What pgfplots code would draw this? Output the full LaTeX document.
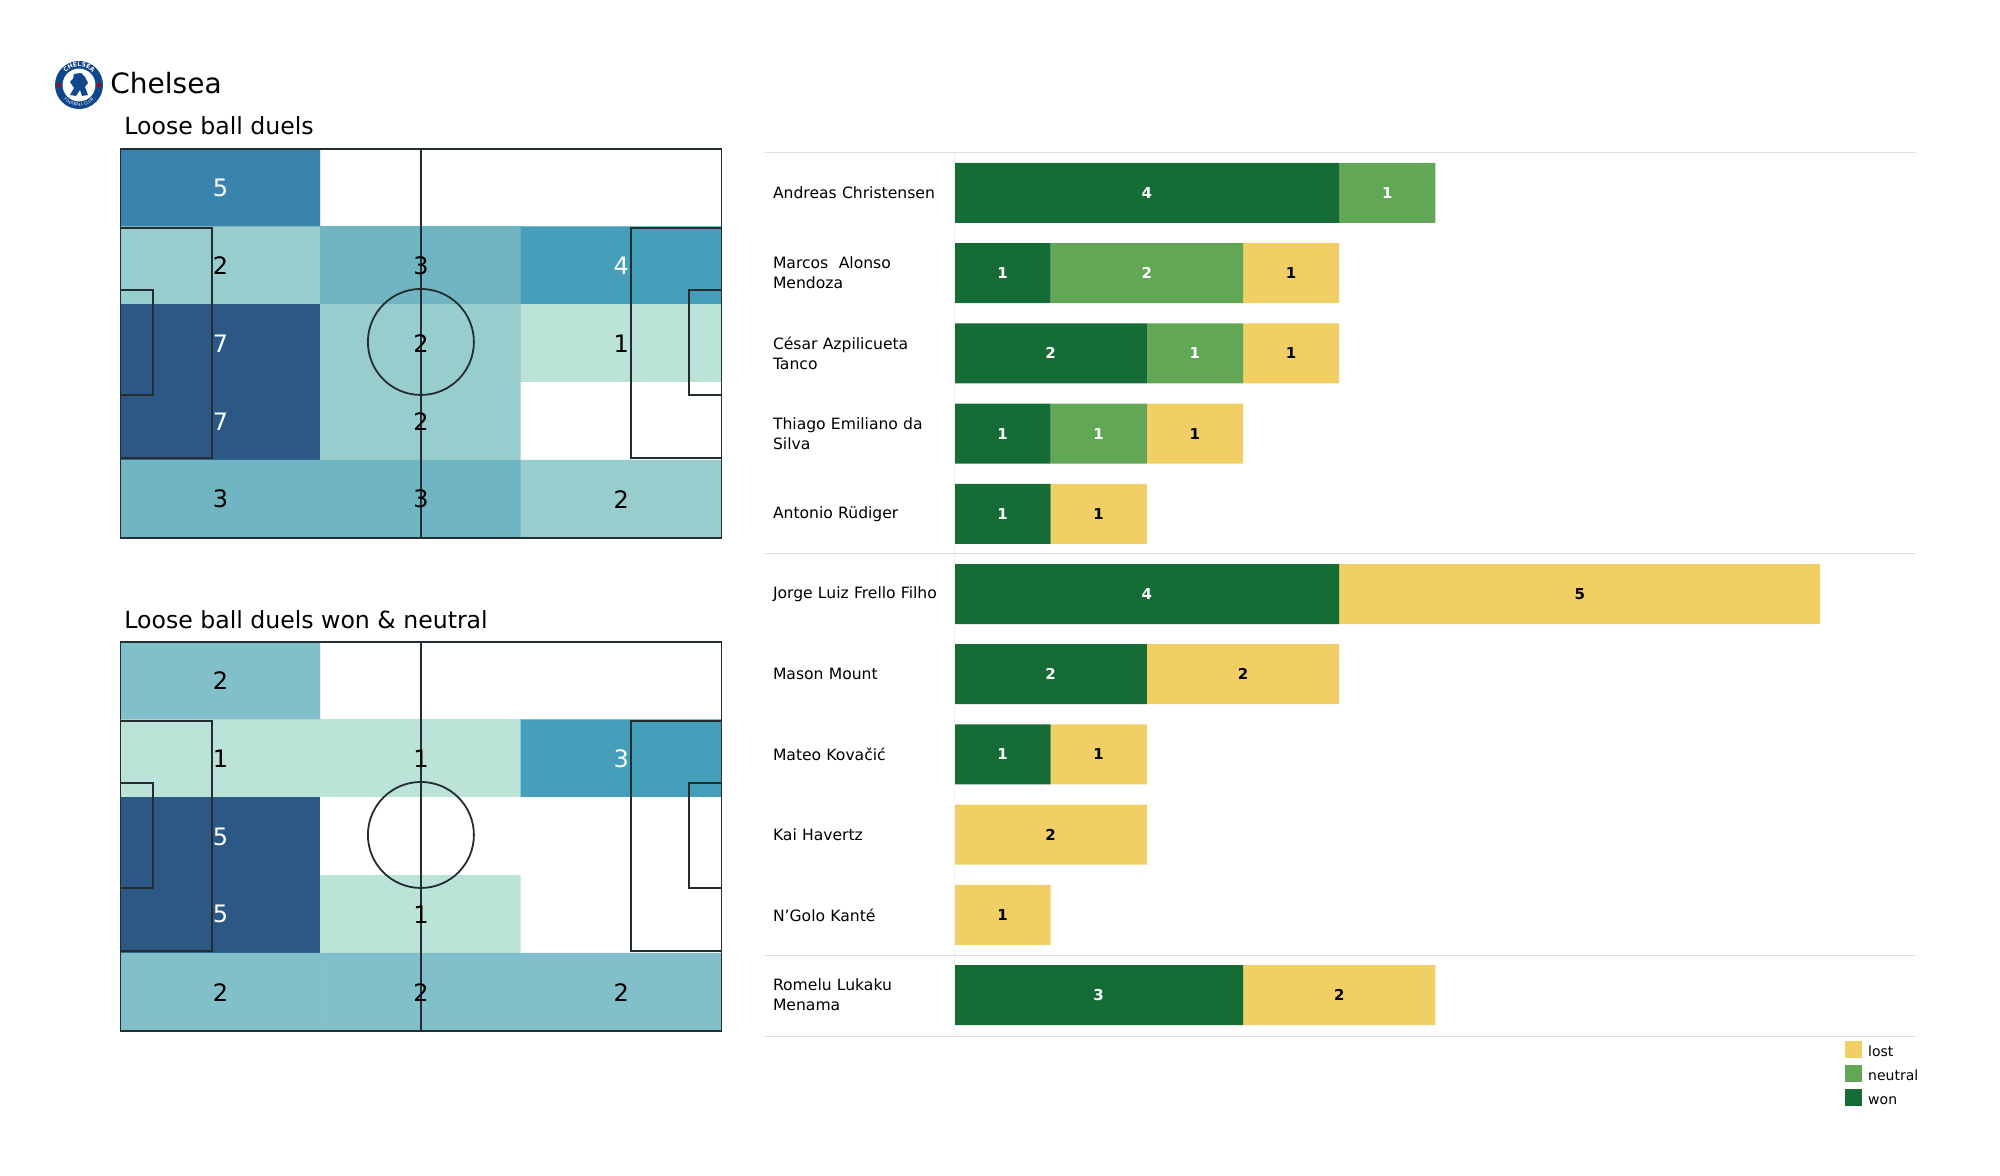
\documentclass[border=0pt]{standalone}
\usepackage{fontspec}
\setmainfont{DejaVu Sans}
\usepackage{pgfplots}
\usepackage{pgfplotstable}
\pgfplotsset{compat=1.18}
\usetikzlibrary{decorations.text}

\definecolor{won}{RGB}{21,108,54}
\definecolor{neutral}{RGB}{98,167,85}
\definecolor{lost}{RGB}{241,207,100}
\definecolor{rule}{RGB}{222,222,222}
\definecolor{pitchline}{RGB}{35,45,50}
\definecolor{crest}{RGB}{16,70,140}

% cells of the two pitches: column, row from the top, count
\pgfplotstableread{
x y c
0.5 0.5 5
1.5 0.5 0
2.5 0.5 0
0.5 1.5 2
1.5 1.5 3
2.5 1.5 4
0.5 2.5 7
1.5 2.5 2
2.5 2.5 1
0.5 3.5 7
1.5 3.5 2
2.5 3.5 0
0.5 4.5 3
1.5 4.5 3
2.5 4.5 2
}\cellsall
\pgfplotstableread{
x y c
0.5 0.5 2
1.5 0.5 0
2.5 0.5 0
0.5 1.5 1
1.5 1.5 1
2.5 1.5 3
0.5 2.5 5
1.5 2.5 0
2.5 2.5 0
0.5 3.5 5
1.5 3.5 1
2.5 3.5 0
0.5 4.5 2
1.5 4.5 2
2.5 4.5 2
}\cellswon

% count labels, split by text colour
\pgfplotstableread{
x y c
0.5 0.5 5
2.5 1.5 4
0.5 2.5 7
0.5 3.5 7
}\lightall
\pgfplotstableread{
x y c
0.5 1.5 2
1.5 1.5 3
1.5 2.5 2
2.5 2.5 1
1.5 3.5 2
0.5 4.5 3
1.5 4.5 3
2.5 4.5 2
}\darkall
\pgfplotstableread{
x y c
2.5 1.5 3
0.5 2.5 5
0.5 3.5 5
}\lightwon
\pgfplotstableread{
x y c
0.5 0.5 2
0.5 1.5 1
1.5 1.5 1
1.5 3.5 1
0.5 4.5 2
1.5 4.5 2
2.5 4.5 2
}\darkwon

\pgfplotstableread{
row won neutral lost
0 4 1 0
1 1 2 1
2 2 1 1
3 1 1 1
4 1 0 1
5 4 0 5
6 2 0 2
7 1 0 1
8 0 0 2
9 0 0 1
10 3 0 2
}\duels

\pgfplotsset{
  pitch/.style={
    scale only axis, hide axis, clip=false,
    width=300.5pt, height=194.5pt,
    xmin=0, xmax=3, ymin=0, ymax=5, y dir=reverse,
    anchor=south west,
  },
  celllabel/.style={
    only marks, mark=none, forget plot,
    point meta=explicit symbolic,
    nodes near coords,
    every node near coord/.append style={
      anchor=center, inner sep=0pt, text=#1,
      font=\fontsize{12}{14}\selectfont},
  },
  pitchline/.style={draw=pitchline, line width=0.9pt, forget plot, mark=none},
  barlabel/.style={
    point meta=explicit symbolic,
    nodes near coords={\if0\pgfplotspointmeta\else\pgfplotspointmeta\fi},
    every node near coord/.append style={
      text=#1, inner sep=0pt, font=\fontsize{7.5}{9}\selectfont\bfseries},
  },
}

\newcommand{\pitchlines}{
  \addplot[pitchline] coordinates {(0,0) (3,0) (3,5) (0,5) (0,0)};
  \addplot[pitchline] coordinates {(1.5,0) (1.5,5)};
  \addplot[pitchline] coordinates {(0,1.015) (0.459,1.015) (0.459,3.97) (0,3.97)};
  \addplot[pitchline] coordinates {(0,1.81) (0.162,1.81) (0.162,3.16) (0,3.16)};
  \addplot[pitchline] coordinates {(3,1.015) (2.548,1.015) (2.548,3.97) (3,3.97)};
  \addplot[pitchline] coordinates {(3,1.81) (2.838,1.81) (2.838,3.16) (3,3.16)};
  \draw[pitchline, line width=0.9pt] (axis cs:1.5,2.48) circle [radius=26.5pt];
}

\begin{document}
\begin{tikzpicture}
\path[use as bounding box] (0,0) rectangle (1000pt,587.5pt);

% crest
\begin{scope}[shift={(39.5pt,545pt)}]
  \fill[crest] (0,0) circle [radius=12pt];
  \fill[white] (0,0) circle [radius=8.2pt];
  \fill[crest] (-2.5pt,5.5pt) -- (1pt,6pt) -- (3pt,4pt) -- (4.5pt,1pt) -- (3pt,-1pt)
    -- (4.5pt,-5pt) -- (1.5pt,-5.5pt) -- (0.5pt,-2.5pt) -- (-1.5pt,-5.5pt) -- (-4.5pt,-5pt)
    -- (-2.5pt,-1.5pt) -- (-4.5pt,1.5pt) -- (-3pt,3pt) -- cycle;
  \fill[red!70!black] (-10pt,0) circle [radius=1pt] (10pt,0) circle [radius=1pt];
  \path[postaction={decorate}, decoration={text along path,
      text={|\fontsize{3}{3}\selectfont\bfseries\color{white}|CHELSEA}, text align=center}]
    (-8.8pt,1.6pt) arc [start angle=170, end angle=10, radius=9pt];
  \path[postaction={decorate}, decoration={text along path,
      text={|\fontsize{2}{2}\selectfont\color{white}|FOOTBALL CLUB}, text align=center}]
    (-10.2pt,-3pt) arc [start angle=197, end angle=343, radius=10.6pt];
\end{scope}

\node[anchor=base west, inner sep=0pt, font=\fontsize{14}{17}\selectfont] at (55pt,540.5pt) {Chelsea};
\node[anchor=base west, inner sep=0pt, font=\fontsize{11.8}{14}\selectfont] at (62pt,520.4pt) {Loose ball duels};
\node[anchor=base west, inner sep=0pt, font=\fontsize{11.8}{14}\selectfont] at (62pt,273.5pt) {Loose ball duels won \& neutral};

% first pitch
\begin{axis}[pitch, at={(60.2pt,318.5pt)},
  colormap={pitcha}{rgb255(0cm)=(255,255,255) rgb255(1cm)=(188,227,216) rgb255(2cm)=(152,205,205)
    rgb255(3cm)=(111,181,194) rgb255(4cm)=(69,159,186) rgb255(5cm)=(56,132,172) rgb255(7cm)=(43,88,133)},
  point meta min=0, point meta max=7]
\addplot[matrix plot*, mesh/cols=3, point meta=explicit, forget plot] table[meta=c] {\cellsall};
\pitchlines
\addplot[celllabel=white] table[meta=c] {\lightall};
\addplot[celllabel=black] table[meta=c] {\darkall};
\end{axis}

% second pitch
\begin{axis}[pitch, at={(60.2pt,72pt)},
  colormap={pitchb}{rgb255(0cm)=(255,255,255) rgb255(1cm)=(188,227,216) rgb255(2cm)=(129,192,202)
    rgb255(3cm)=(69,159,186) rgb255(5cm)=(43,88,133)},
  point meta min=0, point meta max=5]
\addplot[matrix plot*, mesh/cols=3, point meta=explicit, forget plot] table[meta=c] {\cellswon};
\pitchlines
\addplot[celllabel=white] table[meta=c] {\lightwon};
\addplot[celllabel=black] table[meta=c] {\darkwon};
\end{axis}

% duels per player
\begin{axis}[
  at={(477.2pt,69.5pt)}, anchor=south west,
  scale only axis, width=481pt, height=442pt,
  xbar stacked, bar width=30pt, clip=false,
  xmin=0, xmax=10, ymin=-0.51, ymax=10.51, y dir=reverse,
  axis line style={draw=none}, xtick=\empty,
  ytick={0,...,10}, major tick length=0pt, tick label style={inner sep=0pt},
  yticklabels={Andreas Christensen, {Marcos\ \ Alonso\\Mendoza}, {César Azpilicueta\\Tanco},
    {Thiago Emiliano da\\Silva}, Antonio Rüdiger, Jorge Luiz Frello Filho, Mason Mount,
    Mateo Kovačić, Kai Havertz, N'Golo Kanté, {Romelu Lukaku\\Menama}},
  yticklabel style={align=left, text width=85.5pt, font=\fontsize{7.8}{10}\selectfont},
  every y tick label/.append style={xshift=-5pt},
  reverse legend,
  legend style={draw=none, fill=none, at={(0.926,-0.006)}, anchor=north west,
    font=\fontsize{7}{8.5}\selectfont, inner sep=0pt, outer sep=0pt,
    row sep=3pt, nodes={inner sep=0pt, anchor=base west}},
  legend cell align=left,
  legend image code/.code={\fill[#1] (0pt,-1pt) rectangle (8.5pt,7.5pt); \path (11.5pt,0pt);},
]
\draw[rule, line width=0.5pt] (axis cs:-1.97,-0.51) -- (axis cs:10,-0.51);
\draw[rule, line width=0.5pt] (axis cs:-1.97,4.5) -- (axis cs:10,4.5);
\draw[rule, line width=0.5pt] (axis cs:-1.97,9.5) -- (axis cs:10,9.5);
\draw[rule, line width=0.5pt] (axis cs:-1.97,10.51) -- (axis cs:10,10.51);
\draw[rule!40, line width=0.5pt] (axis cs:0,-0.51) -- (axis cs:0,10.51);
\addplot[fill=won, draw=none, barlabel=white] table[x=won, y=row, meta=won] {\duels};
\addlegendentry{won}
\addplot[fill=neutral, draw=none, barlabel=white] table[x=neutral, y=row, meta=neutral] {\duels};
\addlegendentry{neutral}
\addplot[fill=lost, draw=none, barlabel=black] table[x=lost, y=row, meta=lost] {\duels};
\addlegendentry{lost}
\end{axis}
\end{tikzpicture}
\end{document}
